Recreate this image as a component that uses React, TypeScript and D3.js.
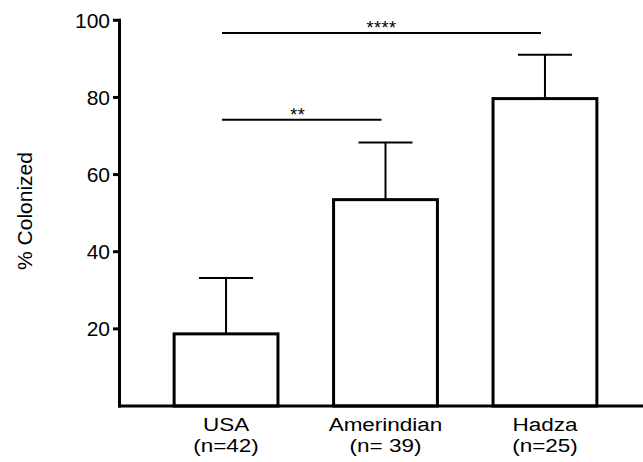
import React from "react";
import * as d3 from "d3";

const categories = ["USA", "Amerindian", "Hadza"];
const sampleLabels = ["(n=42)", "(n= 39)", "(n=25)"];
const means = [18.7, 53.5, 79.7];
const errorTops = [33.2, 68.3, 91.1];
const yTicks = [20, 40, 60, 80, 100];
const comparisons = [
  { from: "USA", to: "Amerindian", y: 74.2, label: "**", dx: -4 },
  { from: "USA", to: "Hadza", y: 96.7, label: "****", dx: 0 },
];

const W = 643;
const H = 462;
const FONT = "'Liberation Sans', Arial, sans-serif";

export default function App() {
  const y = d3.scaleLinear().domain([0, 100]).range([406, 20.3]);
  const x = d3.scaleBand<string>().domain(categories).range([120, 651]).paddingInner(0.33).paddingOuter(0.33);
  const bw = x.bandwidth();
  const cx = (c: string) => (x(c) as number) + bw / 2;
  const capW = 54;

  return (
    <svg width={W} height={H} style={{ position: "absolute", left: 0, top: 0, background: "#fff" }} fontFamily={FONT}>
      {/* y label */}
      <text transform={`translate(32,211) rotate(-90)`} textAnchor="middle" fontSize={21} fill="#000">
        % Colonized
      </text>
      {/* error bars */}
      {categories.map((c, i) => (
        <g key={"e" + c} stroke="#000" strokeWidth={2}>
          <line x1={cx(c)} x2={cx(c)} y1={y(means[i])} y2={y(errorTops[i])} />
          <line x1={cx(c) - capW / 2} x2={cx(c) + capW / 2} y1={y(errorTops[i])} y2={y(errorTops[i])} />
        </g>
      ))}
      {/* bars */}
      {categories.map((c, i) => (
        <rect
          key={"b" + c}
          x={(x(c) as number) + 1.5}
          y={y(means[i])}
          width={bw - 3}
          height={y(0) - y(means[i])}
          fill="#fff"
          stroke="#000"
          strokeWidth={3}
        />
      ))}
      {/* axes */}
      <line x1={119.5} x2={119.5} y1={y(0) + 1.5} y2={y(100) - 1.5} stroke="#000" strokeWidth={3} />
      <line x1={118} x2={643} y1={y(0)} y2={y(0)} stroke="#000" strokeWidth={3} />
      {yTicks.map((t) => (
        <g key={"t" + t}>
          <line x1={113} x2={119.5} y1={y(t)} y2={y(t)} stroke="#000" strokeWidth={3} />
          <text x={110} y={y(t)} dy="0.36em" textAnchor="end" fontSize={21} fill="#000">
            {t}
          </text>
        </g>
      ))}
      {/* x labels */}
      {categories.map((c, i) => (
        <g key={"l" + c}>
          <text transform={`translate(${cx(c)},431) scale(1.25,1)`} textAnchor="middle" fontSize={18} fill="#000">
            {c}
          </text>
          <text transform={`translate(${cx(c)},452) scale(1.25,1)`} textAnchor="middle" fontSize={18} fill="#000">
            {sampleLabels[i]}
          </text>
        </g>
      ))}
      {/* significance */}
      {comparisons.map((s) => {
        const x1 = cx(s.from) - 4;
        const x2 = cx(s.to) - 4;
        return (
          <g key={s.label}>
            <line x1={x1} x2={x2} y1={y(s.y)} y2={y(s.y)} stroke="#000" strokeWidth={2} />
            <text x={(x1 + x2) / 2 + s.dx} y={y(s.y) + 1} textAnchor="middle" fontSize={18} letterSpacing={0.5} fill="#000">
              {s.label}
            </text>
          </g>
        );
      })}
    </svg>
  );
}
